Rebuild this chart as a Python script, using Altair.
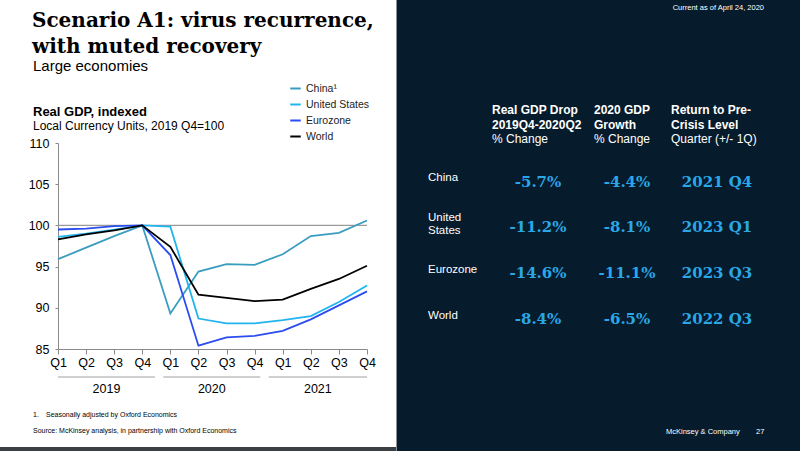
import json
import altair as alt
import pandas as pd

# ---------------- data ----------------
quarters = ["Q1", "Q2", "Q3", "Q4"] * 3
years = ["2019", "2020", "2021"]
series_names = ["China¹", "United States", "Eurozone", "World"]
series_colors = ["#3a9dbf", "#22b4ef", "#2a4cf0", "#000000"]

china = [95.9, 97.3, 98.7, 100.0, 89.3, 94.4, 95.3, 95.2, 96.5, 98.7, 99.1, 100.6]
united_states = [98.6, 99.0, 99.5, 100.0, 99.85, 88.7, 88.1, 88.1, 88.5, 89.0, 90.7, 92.7]
eurozone = [99.5, 99.6, 99.9, 100.0, 96.4, 85.4, 86.4, 86.6, 87.2, 88.6, 90.3, 92.0]
world = [98.3, 98.9, 99.4, 100.0, 97.4, 91.6, 91.2, 90.8, 91.0, 92.3, 93.5, 95.1]

y_ticks = [85, 90, 95, 100, 105, 110]

table_regions = [["China"], ["United", "States"], ["Eurozone"], ["World"]]
table_drop = ["-5.7%", "-11.2%", "-14.6%", "-8.4%"]
table_growth = ["-4.4%", "-8.1%", "-11.1%", "-6.5%"]
table_return = ["2021 Q4", "2023 Q1", "2023 Q3", "2022 Q3"]
table_headers = [
    ["Real GDP Drop", "2019Q4-2020Q2", "% Change"],
    ["2020 GDP", "Growth", "% Change"],
    ["Return to Pre-", "Crisis Level", "Quarter (+/- 1Q)"],
]

# ---------------- build tables ----------------
rows = []
for name, vals in zip(series_names, [china, united_states, eurozone, world]):
    for i, v in enumerate(vals):
        rows.append({"idx": i, "value": v, "series": name, "order": series_names.index(name)})
df = pd.DataFrame(rows)

yr_rows = []
for i, y in enumerate(years):
    start = 0 if i == 0 else 3.75 * i
    end = 11 if i == len(years) - 1 else 3.75 * i + 3.45
    yr_rows.append({"year": y, "start": start, "end": end, "mid": (start + end) / 2})
yr = pd.DataFrame(yr_rows)

one = pd.DataFrame({"a": [0]})

OX, OY = 58, 143          # plot origin in page pixels
W, H = 309, 206

SANS = "Liberation Sans"
SERIF = "DejaVu Serif"


def txt(text, ax, ay, size, color="#000000", font=SANS, weight="normal",
        align="left", baseline="alphabetic", lh=None):
    kw = dict(text=text, fontSize=size, color=color, font=font,
              fontWeight=weight, align=align, baseline=baseline)
    if lh is not None:
        kw["lineHeight"] = lh
    return alt.Chart(one).mark_text(**kw).encode(
        x=alt.value(ax - OX), y=alt.value(ay - OY))


def box(x1, y1, x2, y2, color):
    return alt.Chart(one).mark_rect(color=color).encode(
        x=alt.value(x1 - OX), x2=alt.value(x2 - OX),
        y=alt.value(y1 - OY), y2=alt.value(y2 - OY))


qlabel_expr = json.dumps(quarters) + "[datum.value]"
x_scale = alt.Scale(domain=[0, 11], nice=False, zero=False)
y_scale = alt.Scale(domain=[85, 110], nice=False, zero=False)
x_axis = alt.Axis(values=list(range(12)), labelExpr=qlabel_expr, title=None,
                  grid=False, domainColor="#8a8a8a", tickColor="#8a8a8a",
                  tickSize=5, labelPadding=2, labelFontSize=12.5,
                  labelFont=SANS, labelColor="#000000", labelFlush=False,
                  labelOverlap=False)
y_axis = alt.Axis(values=y_ticks, title=None, grid=False,
                  domainColor="#8a8a8a", tickColor="#8a8a8a", tickSize=3,
                  labelPadding=6, labelFontSize=12.5, labelFont=SANS,
                  labelColor="#000000", labelOverlap=False)

layers = []
# backgrounds
layers.append(box(0, 447, 800, 451, "#3b4045"))
layers.append(box(396, 0, 800, 451, "#8a8f94"))
layers.append(box(397, 0, 800, 451, "#061b2c"))

# reference line at 100
layers.append(alt.Chart(one).mark_rule(color="#9a9a9a", strokeWidth=1.2).encode(
    y=alt.Y(datum=100, type="quantitative", scale=y_scale, axis=y_axis)))

lines = alt.Chart(df).mark_line(strokeWidth=1.8).encode(
    x=alt.X("idx:Q", scale=x_scale, axis=x_axis),
    y=alt.Y("value:Q", scale=y_scale, axis=y_axis),
    color=alt.Color("series:N",
                    scale=alt.Scale(domain=series_names, range=series_colors),
                    legend=alt.Legend(orient="none", legendX=231, legendY=-61,
                                      title=None, symbolType="stroke", symbolSize=110,
                                      symbolStrokeWidth=2, labelFontSize=10.5,
                                      labelFont=SANS, labelColor="#222222",
                                      rowPadding=4, labelOffset=4)),
    order=alt.Order("order:Q"),
    detail="series:N",
)
layers.append(lines)

# year brackets and labels
layers.append(alt.Chart(yr).mark_rule(color="#a0a0a0", strokeWidth=1).encode(
    x=alt.X("start:Q", scale=x_scale, axis=x_axis), x2="end:Q", y=alt.value(377 - OY)))
layers.append(alt.Chart(yr).mark_text(fontSize=12.5, font=SANS, color="#000000",
                                      baseline="middle").encode(
    x=alt.X("mid:Q", scale=x_scale, axis=x_axis), y=alt.value(389 - OY), text="year:N"))

# left titles
layers.append(txt(["Scenario A1: virus recurrence,", "with muted recovery"], 32, 27, 20,
                  font=SERIF, weight="bold", lh=26))
layers.append(txt("Large economies", 33, 71, 15))
layers.append(txt("Real GDP, indexed", 33, 116, 13, weight="bold"))
layers.append(txt("Local Currency Units, 2019 Q4=100", 33, 130, 12))

# footnotes
layers.append(txt("1.", 33, 417, 7))
layers.append(txt("Seasonally adjusted by Oxford Economics", 46, 417, 7))
layers.append(txt("Source: McKinsey analysis, in partnership with Oxford Economics", 33, 433, 7))

# right panel
layers.append(txt("Current as of April 24, 2020", 764, 10, 7.5, color="#ffffff", align="right"))
header_x = [492, 594, 671]
for hx, hdr in zip(header_x, table_headers):
    layers.append(txt(hdr[:2], hx, 114, 12, color="#ffffff", weight="bold", lh=14.5))
    layers.append(txt(hdr[2], hx, 143, 12, color="#ffffff"))

row_y = [182, 227, 273, 319]
label_y = [182, 228, 274, 320]
VAL = "#2aa7e6"
for ry, ly, reg, d, g, r in zip(row_y, label_y, table_regions, table_drop, table_growth, table_return):
    if len(reg) == 1:
        layers.append(txt(reg[0], 428, ly - 4, 11.5, color="#ffffff", baseline="middle"))
    else:
        layers.append(txt(reg, 428, ly - 10, 11.5, color="#ffffff", baseline="middle", lh=13))
    for cx, val in zip([538, 627, 717], [d, g, r]):
        layers.append(txt(val, cx, ry, 15, color=VAL, font=SERIF, weight="bold",
                          align="center", baseline="middle"))

layers.append(txt("McKinsey & Company", 666, 434, 7.5, color="#ffffff"))
layers.append(txt("27", 756, 434, 7.5, color="#ffffff"))

chart = alt.layer(*layers).properties(
    width=W, height=H,
    autosize=alt.AutoSizeParams(type="none"),
    padding={"left": OX, "top": OY, "right": 800 - OX - W, "bottom": 451 - OY - H},
    background="#ffffff",
).configure_view(stroke=None).configure_axis(labelOverlap=False)

chart.save("out.html", embed_options={"renderer": "svg", "actions": False})
